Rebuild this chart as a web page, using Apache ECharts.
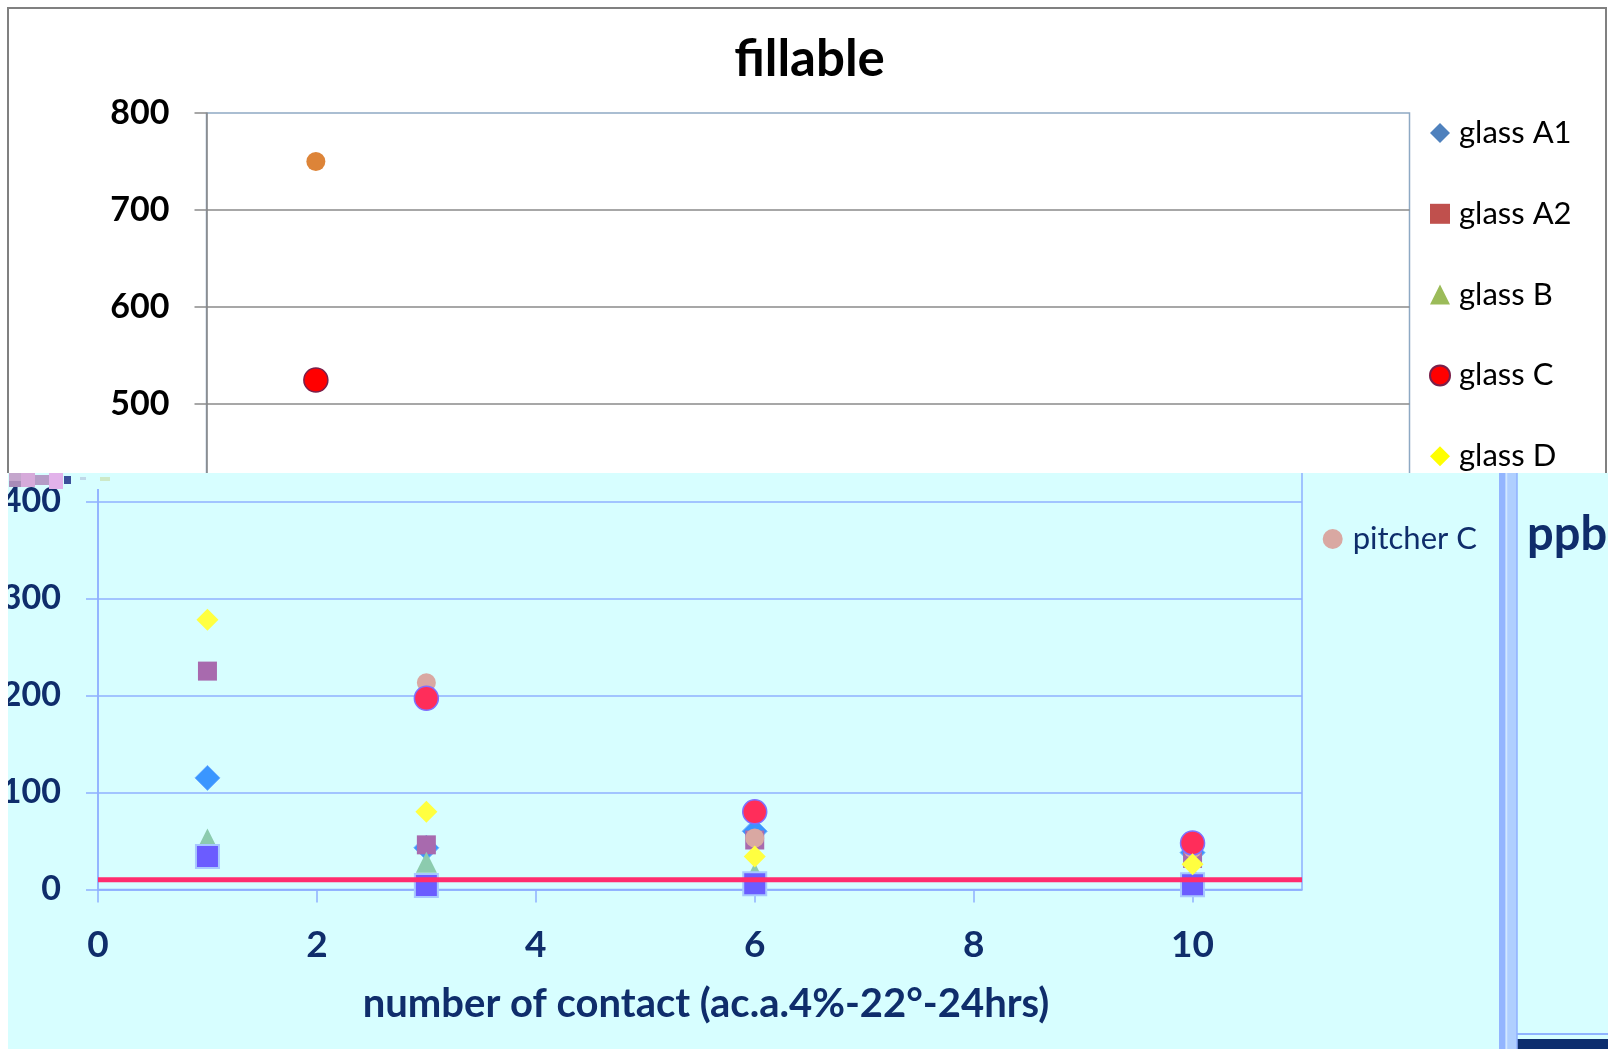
<!DOCTYPE html>
<html><head><meta charset="utf-8">
<script src="https://cdn.jsdelivr.net/npm/echarts@6/dist/echarts.min.js"></script>
<style>
html,body{margin:0;padding:0;background:#fff;width:1619px;height:1049px;overflow:hidden;position:relative;}
#topbg{position:absolute;left:7px;top:7px;width:1600px;height:466px;background:#fff;border:2px solid #808080;border-bottom:none;box-sizing:border-box;}
#botbg{position:absolute;left:8px;top:473px;width:1600px;height:576px;background:#D7FEFF;}
#top{position:absolute;left:0;top:0;width:1619px;height:473px;}
#bot{position:absolute;left:0;top:473px;width:1619px;height:576px;}
</style></head><body>
<div id="topbg"></div><div id="botbg"></div>
<div id="top"></div><div id="bot"></div>
<script>
// ---- data ----
const xValues   = [1, 3, 6, 10];
const glassA1   = [115, 43, 60, 38];
const glassA2   = [225, 46, 51, 32];
const glassB    = [52, 28, 17, 15];
const glassC    = [525, 197, 80, 48];
const glassD    = [278, 80, 34, 26];
const pitcherC  = [750, 213, 53, 42];
const pitcherD  = [34, 4, 6, 5];
const limitValue = 10;
const xRange = [0, 11];
const xTickLabels = [0, 2, 4, 6, 8, 10];
const yTickLabels = [0, 100, 200, 300, 400, 500, 600, 700, 800];
const legendNames = ['glass A1', 'glass A2', 'glass B', 'glass C', 'glass D', 'pitcher C'];

// ---- styling ----
const FONT = 'Lato, Carlito, Calibri, sans-serif';
const NAVY = '#0F2D6B';
const seriesList = [
  {name: 'glass A1', values: glassA1},
  {name: 'glass A2', values: glassA2},
  {name: 'glass B', values: glassB},
  {name: 'pitcher D', values: pitcherD},
  {name: 'pitcher C', values: pitcherC},
  {name: 'glass C', values: glassC},
  {name: 'glass D', values: glassD}
];
const shapeOf = {'glass A1':'diamond','glass A2':'rect','glass B':'triangle','pitcher D':'rect','pitcher C':'circle','glass C':'circle','glass D':'diamond'};
const sizeOf  = {'glass A1':25,'glass A2':19,'glass B':21,'pitcher D':23,'pitcher C':19,'glass C':24,'glass D':22};
const topStyle = {
  'glass A1':{color:'#4F81BD'}, 'glass A2':{color:'#C0504D'}, 'glass B':{color:'#9BBB59'},
  'pitcher D':{color:'#8064A2'}, 'pitcher C':{color:'#DD8438'},
  'glass C':{color:'#FF0000', borderColor:'#7A1F4A', borderWidth:1.5}, 'glass D':{color:'#FFFF00'}
};
const botStyle = {
  'glass A1':{color:'#3A96FF', borderColor:'#6FB0FF', borderWidth:1}, 'glass A2':{color:'#A86AAE'},
  'glass B':{color:'#8CCBAE'}, 'pitcher D':{color:'#6B5CFF', borderColor:'#A8C8FF', borderWidth:2},
  'pitcher C':{color:'#D9A8A2'}, 'glass C':{color:'#FF2D5A', borderColor:'#7F70FF', borderWidth:1.5},
  'glass D':{color:'#FFFF40'}
};

function buildSeries(styleMap, lineColor) {
  const s = seriesList.map(d => ({
    name: d.name, type: 'scatter',
    symbol: shapeOf[d.name], symbolSize: sizeOf[d.name],
    itemStyle: Object.assign({opacity: 1}, styleMap[d.name]),
    data: xValues.map((x, i) => [x, d.values[i]]),
    z: 2
  }));
  s.push({
    name: 'limit', type: 'line', showSymbol: false, symbol: 'none', z: 5,
    lineStyle: {color: lineColor, width: 5},
    data: xRange.map(x => [x, limitValue])
  });
  return s;
}

function axes(labelColor, lineColor, gridColor) {
  return {
    xAxis: {
      type: 'value', min: xRange[0], max: xRange[1], interval: 2,
      axisLine: {show: true, onZero: false, lineStyle: {color: lineColor, width: 1.5}},
      axisTick: {show: true, inside: false, length: 13, customValues: xTickLabels, lineStyle: {color: lineColor, width: 1.5}},
      axisLabel: {customValues: xTickLabels, margin: 37, fontFamily: FONT, fontSize: 37, fontWeight: 'bold', color: labelColor},
      splitLine: {show: false},
      name: 'number of contact (ac.a.4%-22°-24hrs)', nameLocation: 'middle', nameGap: 95, nameMoveOverlap: false,
      nameTextStyle: {fontFamily: FONT, fontSize: 40, fontWeight: 'bold', color: labelColor, padding: [0, 0, 0, 12]}
    },
    yAxis: {
      type: 'value', min: yTickLabels[0], max: yTickLabels[yTickLabels.length - 1], interval: 100,
      axisLine: {show: true, lineStyle: {color: lineColor, width: 1.5}},
      axisTick: {show: true, inside: false, length: 12, lineStyle: {color: gridColor, width: 1.5}},
      axisLabel: {margin: 37, fontFamily: FONT, fontSize: 34, fontWeight: 'bold', color: labelColor},
      splitLine: {show: true, showMaxLine: false, lineStyle: {color: gridColor, width: 1.5}}
    }
  };
}

// ---------- top (white) chart ----------
const topChart = echarts.init(document.getElementById('top'), null, {renderer: 'canvas'});
const topAx = axes('#000000', '#868686', '#8A8A8A');
topChart.setOption({
  animation: false,
  backgroundColor: 'transparent',
  title: {text: 'fillable', left: 'center', top: 34, padding: 0,
    textStyle: {fontFamily: FONT, fontSize: 51, fontWeight: 'bold', color: '#000'}},
  legend: {orient: 'vertical', left: 1429, top: 117, height: 700, padding: 0,
    itemWidth: 20, itemHeight: 20, itemGap: 48.8,
    data: legendNames.slice(0, 5),
    textStyle: {fontFamily: FONT, fontSize: 31, color: '#000', lineHeight: 32, padding: [0, 0, 0, 4]}},
  grid: {left: 206.5, top: 113, width: 1203, height: 776.5, show: true,
    borderColor: '#8EA9C4', borderWidth: 1.5, outerBoundsMode: 'none', containLabel: false},
  xAxis: topAx.xAxis, yAxis: topAx.yAxis,
  series: buildSeries(topStyle, '#FF0000')
});

// ---------- bottom (cyan) chart ----------
const botChart = echarts.init(document.getElementById('bot'), null, {renderer: 'canvas'});
const botAx = axes(NAVY, '#8FB0FF', '#8FB0FF');
botChart.setOption({
  animation: false,
  backgroundColor: 'transparent',
  legend: {orient: 'vertical', left: 1322.7, top: 50, padding: 0,
    itemWidth: 20, itemHeight: 20, data: legendNames.slice(5),
    textStyle: {fontFamily: FONT, fontSize: 31, color: NAVY, lineHeight: 32, padding: [0, 0, 0, 5]}},
  grid: {left: 98, top: -360, width: 1204, height: 776.5, show: true,
    borderColor: '#8FB0FF', borderWidth: 1.5, outerBoundsMode: 'none', containLabel: false},
  xAxis: botAx.xAxis, yAxis: botAx.yAxis,
  series: buildSeries(botStyle, '#FF2D6E'),
  graphic: [
    {type: 'rect', z: 100, shape: {x: 0, y: 0, width: 8, height: 576}, style: {fill: '#fff'}},
    {type: 'rect', z: 100, shape: {x: 93, y: 0, width: 12, height: 16}, style: {fill: '#D7FEFF'}},
    {type: 'rect', z: 101, shape: {x: 9, y: 0, width: 12, height: 8}, style: {fill: '#C4A6CC'}},
    {type: 'rect', z: 101, shape: {x: 9, y: 8, width: 12, height: 6}, style: {fill: '#A88CB8'}},
    {type: 'rect', z: 101, shape: {x: 21, y: 0, width: 14, height: 14}, style: {fill: '#D6AADA'}},
    {type: 'rect', z: 101, shape: {x: 35, y: 2, width: 14, height: 10}, style: {fill: '#B49CC6'}},
    {type: 'rect', z: 101, shape: {x: 49, y: 0, width: 14, height: 16}, style: {fill: '#E2B2EA'}},
    {type: 'rect', z: 101, shape: {x: 64, y: 3, width: 7, height: 8}, style: {fill: '#3A4F9A'}},
    {type: 'rect', z: 101, shape: {x: 80, y: 4, width: 6, height: 3}, style: {fill: '#BFD8E8'}},
    {type: 'rect', z: 101, shape: {x: 100, y: 4, width: 10, height: 4}, style: {fill: '#CDE9C8'}},
    {type: 'rect', z: 100, shape: {x: 1499, y: 0, width: 6, height: 576}, style: {fill: '#93B5FF'}},
    {type: 'rect', z: 100, shape: {x: 1505, y: 0, width: 12, height: 576}, style: {fill: '#AFCFFF'}},
    {type: 'line', z: 101, shape: {x1: 1506.5, y1: 0, x2: 1506.5, y2: 576}, style: {stroke: '#D3E8FF', lineWidth: 1.5}},
    {type: 'line', z: 101, shape: {x1: 1517, y1: 0, x2: 1517, y2: 576}, style: {stroke: '#8FB0FF', lineWidth: 1.5}},
    {type: 'text', z: 100, x: 1527, y: 62, style: {text: 'ppb', font: 'bold 47px ' + FONT, fill: NAVY, verticalAlign: 'middle'}},
    {type: 'line', z: 100, shape: {x1: 1517, y1: 561, x2: 1608, y2: 561}, style: {stroke: '#8FB3FF', lineWidth: 2}},
    {type: 'rect', z: 100, shape: {x: 1517, y: 566, width: 91, height: 10}, style: {fill: '#0D2E6E'}},
    {type: 'rect', z: 102, shape: {x: 1608, y: 0, width: 11, height: 576}, style: {fill: '#fff'}}
  ]
});
</script>
</body></html>
